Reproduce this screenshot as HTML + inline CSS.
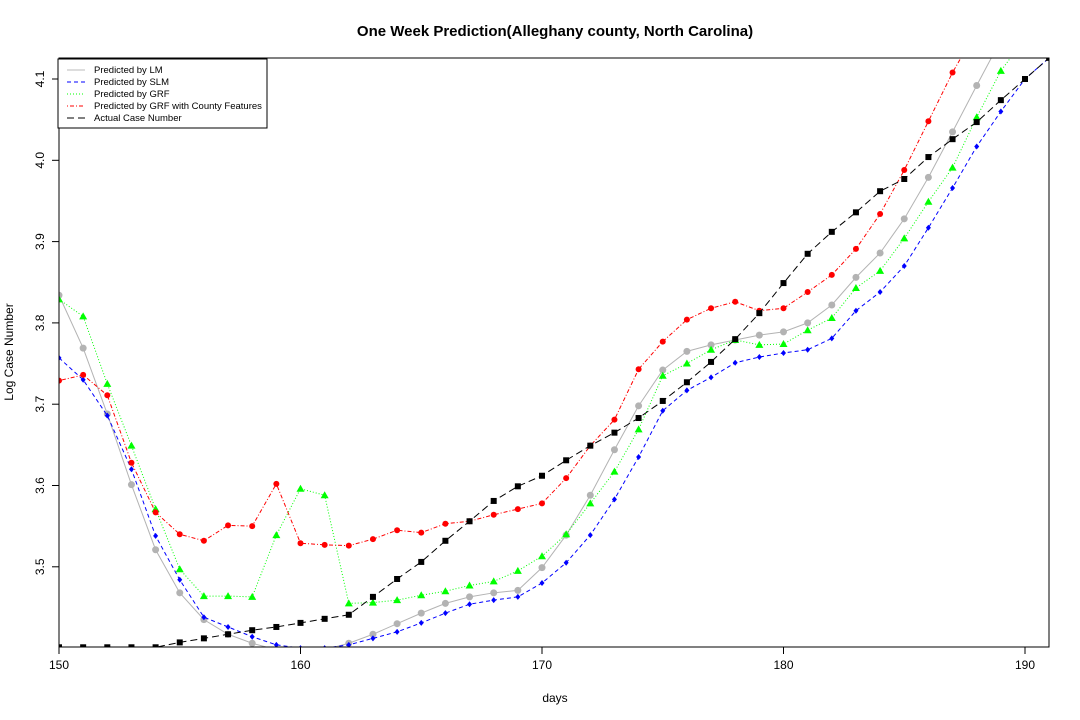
<!DOCTYPE html>
<html><head><meta charset="utf-8"><style>
body{margin:0;background:#fff;}
svg{display:block;font-family:"Liberation Sans",Arial,sans-serif;}
</style></head><body>
<svg id="chart" width="1080" height="720">
<text x="555" y="36" text-anchor="middle" font-size="15" font-weight="bold">One Week Prediction(Alleghany county, North Carolina)</text>
<text x="555" y="702" text-anchor="middle" font-size="12">days</text>
<text transform="translate(13,352) rotate(-90)" text-anchor="middle" font-size="12">Log Case Number</text>
<defs><clipPath id="pc"><rect x="59" y="58" width="990" height="589"/></clipPath></defs>
<g id="axes"></g>
<g id="series" clip-path="url(#pc)"></g>
<rect x="59" y="58" width="990" height="589" fill="none" stroke="#000"/>
<g>
<rect x="58" y="59" width="209" height="69" fill="#fff" stroke="#000"/>
<line x1="67" y1="70" x2="85" y2="70" stroke="#bbb"/>
<line x1="67" y1="82" x2="85" y2="82" stroke="#00f" stroke-dasharray="4,3"/>
<line x1="67" y1="94" x2="85" y2="94" stroke="#0f0" stroke-dasharray="1,2"/>
<line x1="67" y1="106" x2="85" y2="106" stroke="#f00" stroke-dasharray="1,2,4,2"/>
<line x1="67" y1="118" x2="85" y2="118" stroke="#000" stroke-dasharray="7,4"/>
<g font-size="9.5">
<text x="94" y="73">Predicted by LM</text>
<text x="94" y="85">Predicted by SLM</text>
<text x="94" y="97">Predicted by GRF</text>
<text x="94" y="109">Predicted by GRF with County Features</text>
<text x="94" y="121">Actual Case Number</text>
</g></g>
</svg>
<script>
const days=[150,151,152,153,154,155,156,157,158,159,160,161,162,163,164,165,166,167,168,169,170,171,172,173,174,175,176,177,178,179,180,181,182,183,184,185,186,187,188,189,190,191];
const lmValues=[3.834,3.769,3.688,3.601,3.521,3.468,3.435,3.417,3.406,3.398,3.396,3.398,3.406,3.417,3.430,3.443,3.455,3.463,3.468,3.471,3.499,3.539,3.588,3.644,3.698,3.742,3.765,3.773,3.779,3.785,3.789,3.800,3.822,3.856,3.886,3.928,3.979,4.035,4.092,4.148,4.200,4.250];
const slmValues=[3.757,3.730,3.686,3.620,3.538,3.484,3.438,3.426,3.414,3.404,3.400,3.400,3.404,3.412,3.420,3.431,3.443,3.454,3.459,3.463,3.480,3.505,3.539,3.583,3.635,3.692,3.717,3.733,3.751,3.758,3.763,3.767,3.781,3.815,3.838,3.870,3.917,3.966,4.017,4.060,4.100,4.126];
const grfValues=[3.829,3.808,3.725,3.649,3.571,3.497,3.464,3.464,3.463,3.539,3.596,3.588,3.455,3.456,3.459,3.465,3.470,3.477,3.482,3.495,3.513,3.540,3.578,3.617,3.669,3.735,3.750,3.767,3.779,3.773,3.774,3.791,3.806,3.843,3.864,3.904,3.949,3.991,4.053,4.110,4.150,4.200];
const grfCountyValues=[3.729,3.736,3.711,3.628,3.567,3.540,3.532,3.551,3.550,3.602,3.529,3.527,3.526,3.534,3.545,3.542,3.553,3.556,3.564,3.571,3.578,3.609,3.649,3.681,3.743,3.777,3.804,3.818,3.826,3.815,3.818,3.838,3.859,3.891,3.934,3.988,4.048,4.108,4.160,4.210,4.260,4.310];
const actualValues=[3.401,3.401,3.401,3.401,3.401,3.407,3.412,3.417,3.422,3.426,3.431,3.436,3.441,3.463,3.485,3.506,3.532,3.556,3.581,3.599,3.612,3.631,3.649,3.665,3.683,3.704,3.727,3.752,3.780,3.812,3.849,3.885,3.912,3.936,3.962,3.977,4.004,4.026,4.047,4.074,4.100,4.126];
const xTicks=[150,160,170,180,190];
const yTicks=[3.5,3.6,3.7,3.8,3.9,4.0,4.1];
const xs=d=>59+(d-150)*(1025-59)/40;
const ys=v=>79+(4.1-v)*813;
const NS="http://www.w3.org/2000/svg";
function mk(tag,parent,attrs){const e=document.createElementNS(NS,tag);for(const k in attrs)e.setAttribute(k,attrs[k]);parent.appendChild(e);return e;}
const ax=document.getElementById('axes');
xTicks.forEach(t=>{
 const l=mk('line',ax,{x1:xs(t),x2:xs(t),y1:647,y2:654,stroke:'#000'});
 
 
 const tx=mk('text',ax,{x:xs(t),y:669,'text-anchor':'middle','font-size':12});
 tx.textContent=t;
 
 
});
yTicks.forEach(t=>{
 const l=mk('line',ax,{x1:52,x2:59,y1:ys(t),y2:ys(t),stroke:'#000'});
 
 
 const tx=mk('text',ax,{transform:`translate(44,${ys(t)}) rotate(-90)`,'text-anchor':'middle','font-size':12});
 tx.textContent=t.toFixed(1);
 
 
});
const sg=document.getElementById('series');
function series(name,vals,color,dash,marker){
 const g=mk('g',sg,{});
 
 
 const pts=vals.map((v,i)=>xs(days[i])+','+ys(v)).join(' ');
 mk('polyline',g,{points:pts,fill:'none',stroke:color,'stroke-width':1,'stroke-dasharray':dash});
 vals.forEach((v,i)=>{
  const x=xs(days[i]),y=ys(v);let m;
  if(marker==='circle')m=mk('circle',g,{cx:x,cy:y,r:3.5,fill:color});
  else if(marker==='dot')m=mk('circle',g,{cx:x,cy:y,r:3,fill:color});
  else if(marker==='diamond')m=mk('polygon',g,{points:`${x},${y-3} ${x+2.5},${y} ${x},${y+3} ${x-2.5},${y}`,fill:color});
  else if(marker==='tri')m=mk('polygon',g,{points:`${x},${y-4} ${x+4},${y+3} ${x-4},${y+3}`,fill:color});
  else m=mk('rect',g,{x:x-3,y:y-3,width:6,height:6,fill:color});
  
  
 });
}
series('lm-series',lmValues,'#b3b3b3','none','circle');
series('slm-series',slmValues,'#0000ff','4,3','diamond');
series('grf-series',grfValues,'#00ff00','1,2','tri');
series('grf-county-series',grfCountyValues,'#ff0000','1,2,4,2','dot');
series('actual-series',actualValues,'#000000','7,4','square');
</script>
</body></html>
